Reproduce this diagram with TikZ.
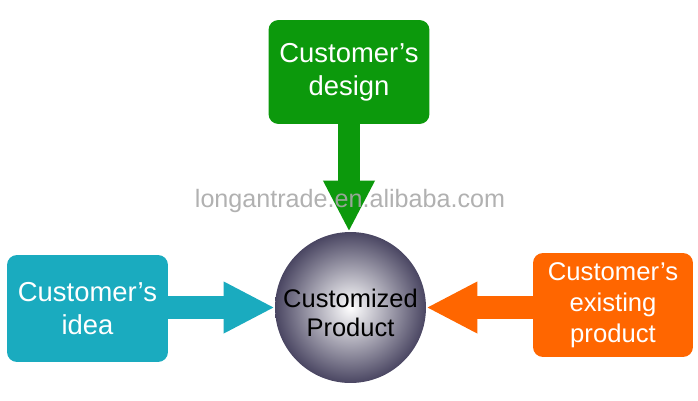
\documentclass[tikz,border=0pt]{standalone}
\usepackage{fontspec}
\setmainfont{Liberation Sans}
\usetikzlibrary{arrows.meta,positioning}
\definecolor{DesignGreen}{HTML}{0C990C}
\definecolor{IdeaTeal}{HTML}{1AABBF}
\definecolor{ExistOrange}{HTML}{FF6600}
\definecolor{BallEdge}{HTML}{4A4662}
\definecolor{MarkGray}{HTML}{A8A8A8}

\begin{document}
\begin{tikzpicture}[x=0.02cm, y=-0.02cm,
  source/.style={rounded corners=0.2cm, text=white, align=center, inner sep=0pt, minimum width=3.22cm, minimum height=2.1cm, font=\fontsize{15.6}{18.6}\selectfont},
  product/.style={circle, inner sep=0pt, minimum size=3.02cm, inner color=white, outer color=BallEdge, align=center, font=\fontsize{14.5}{16.6}\selectfont},
  feed/.style={line width=0.46cm, -{Triangle[length=1.02cm, width=0.96cm]}}
]
\useasboundingbox (0,0) rectangle (698,400);

\node[source, fill=DesignGreen, minimum height=2.08cm] (design) at (349,72) {Customer’s\\design};
\node[source, fill=IdeaTeal, minimum height=2.14cm] (idea) at (87.5,308.5) {Customer’s\\idea};
\node[source, fill=ExistOrange, minimum width=3.2cm, minimum height=2.08cm, font=\fontsize{14.6}{17.6}\selectfont] (existing) at (613,305) {Customer’s\\existing\\product};
\node[product] (prod) at (350.5,307.5) {\rule{0pt}{0.1cm}\\[-0.1cm]Customized\\Product};

% arrows into the product
\draw[feed, DesignGreen] (design.south) -- (design.south |- prod.north);
\draw[feed, IdeaTeal] (prod.west -| idea.east) -- (prod.west);
\draw[feed, ExistOrange] (prod.east -| existing.west) -- (prod.east);

\node[text=MarkGray, text opacity=0.9, font=\fontsize{14.3}{17}\selectfont] (mark) at (350,201) {longantrade.en.alibaba.com};
\end{tikzpicture}
\end{document}
